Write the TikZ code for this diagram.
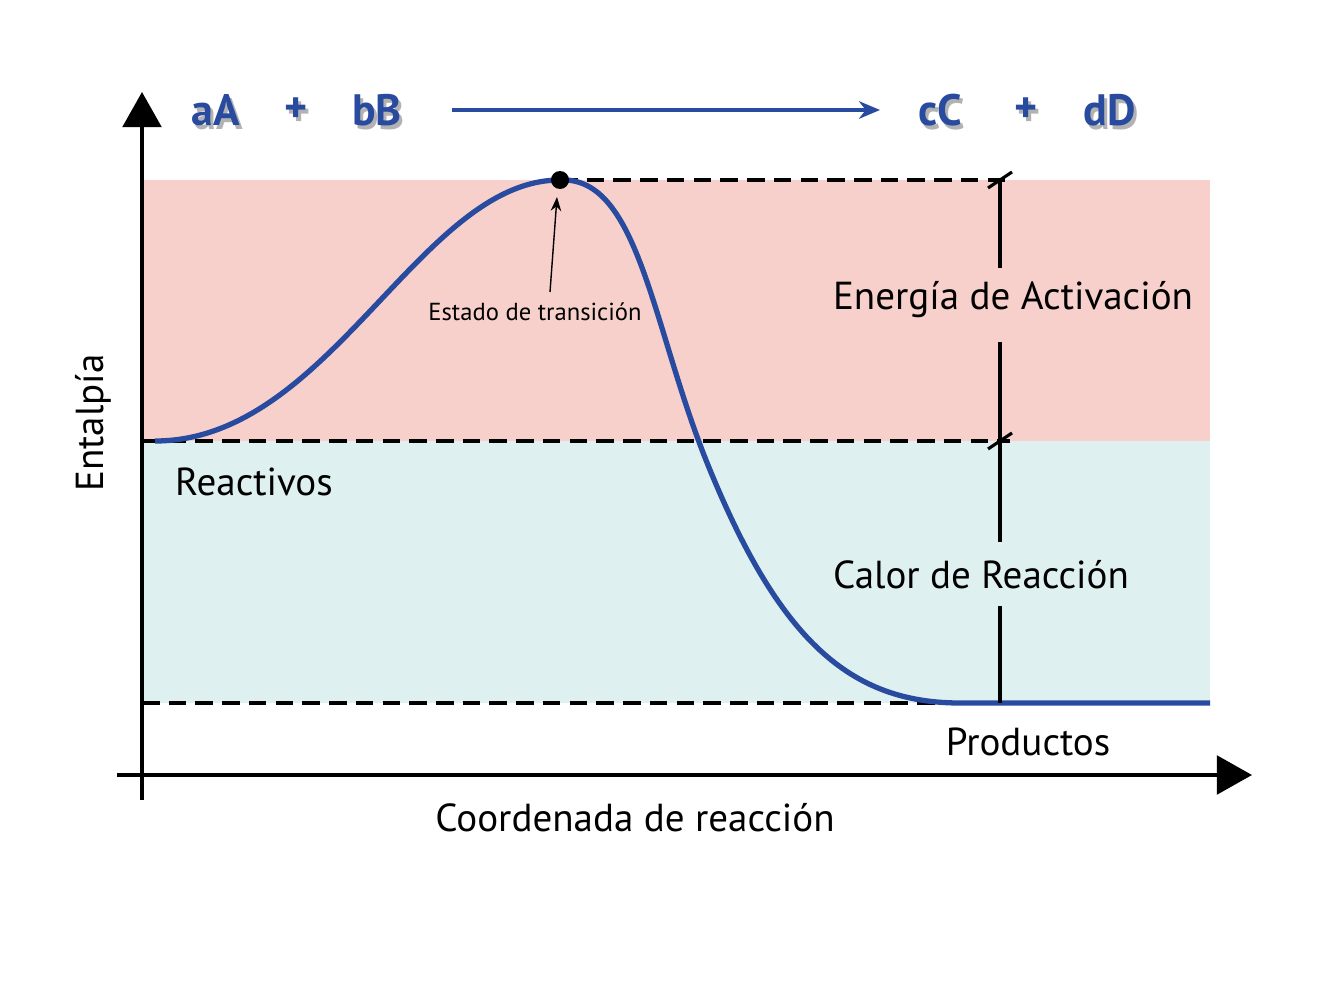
\documentclass[tikz,border=0pt]{standalone}
\usepackage{fontspec}
\setmainfont{PT Sans}
\usetikzlibrary{arrows.meta}
\definecolor{curveblue}{RGB}{40,75,160}
\definecolor{pinkfill}{RGB}{247,208,204}
\definecolor{cyanfill}{RGB}{222,240,239}
\tikzset{
  lbl/.style={font=\fontsize{11.1}{13}\selectfont, inner sep=0pt},
  eq/.style={font=\bfseries\fontsize{12.5}{14}\selectfont, text=curveblue, inner sep=0pt},
  eqsh/.style={font=\bfseries\fontsize{12.5}{14}\selectfont, text=black!30, inner sep=0pt},
  dashline/.style={dash pattern=on 5pt off 2.6pt, line width=0.9pt},
}
\newcommand{\eqtxt}[3]{\node[eqsh] at (#1+3,#2+4) {#3};\node[eq] (#1n) at (#1,#2) {#3};}
\begin{document}
\begin{tikzpicture}[x=0.01cm,y=-0.01cm]
\useasboundingbox (0,0) rectangle (1336,1000);
\fill[pinkfill] (142,180) rectangle (1210,441);
\fill[cyanfill] (142,441) rectangle (1210,703);
% dashed levels
\coordinate (ts) at (560,180);
\coordinate (tsr) at (1010,180);
\coordinate (rl) at (142,441);
\coordinate (rr) at (1010,441);
\coordinate (pl) at (142,703);
\coordinate (pr) at (960,703);
\draw[dashline] (ts) -- (tsr);
\draw[dashline] (rl) -- (rr);
\draw[dashline] (pl) -- (pr);
% axes
\coordinate (yb) at (142,800);
\coordinate (yt) at (142,92);
\coordinate (xl) at (117,775);
\coordinate (xr) at (1252,775);
\draw[line width=1pt, -{Triangle[width=11pt,length=10pt]}] (yb) -- (yt);
\draw[line width=1pt, -{Triangle[width=11pt,length=10pt]}] (xl) -- (xr);
% curve
\draw[curveblue, line width=1.5pt] (155,441) .. controls (330,441) and (420,180) .. (560,180)
  .. controls (640,176) and (652,330) .. (710,470)
  .. controls (780,640) and (850,703) .. (960,703) -- (1210,703);
\fill (ts) circle (9);
% vertical measure
\node[lbl] (ea) at (1013,300) {Energía de Activación};
\node[lbl] (cr) at (981,575) {Calor de Reacción};
\coordinate (v1) at (1000,180);
\coordinate (v2) at (1000,441);
\coordinate (v3) at (1000,703);
\draw[line width=0.9pt] (v1) -- (1000,268);
\draw[line width=0.9pt] (1000,342) -- (v2) -- (1000,542);
\draw[line width=0.9pt] (1000,606) -- (v3);
\draw[line width=0.9pt] (988,188) -- (1012,172);
\draw[line width=0.9pt] (988,449) -- (1012,433);
% labels
\node[font=\fontsize{7}{9}\selectfont, inner sep=1pt] (et) at (535,312) {Estado de transición};
\draw[-{Stealth[length=4pt,width=3pt]}, line width=0.4pt] (550,292) -- (557,197);
\node[lbl] (re) at (254,482) {Reactivos};
\node[lbl] (pr2) at (1028,742) {Productos};
\node[lbl] (cx) at (635,818) {Coordenada de reacción};
\node[lbl, rotate=90] (en) at (93,423) {Entalpía};
% equation
\eqtxt{216}{110}{aA}
\eqtxt{296}{110}{+}
\eqtxt{377}{110}{bB}
\eqtxt{940}{110}{cC}
\eqtxt{1026}{110}{+}
\eqtxt{1110}{110}{dD}
\coordinate (a1) at (452,110);
\coordinate (a2) at (880,110);
\draw[curveblue, line width=0.9pt, -{Stealth[length=6pt,width=5pt]}] (a1) -- (a2);
\end{tikzpicture}
\end{document}
